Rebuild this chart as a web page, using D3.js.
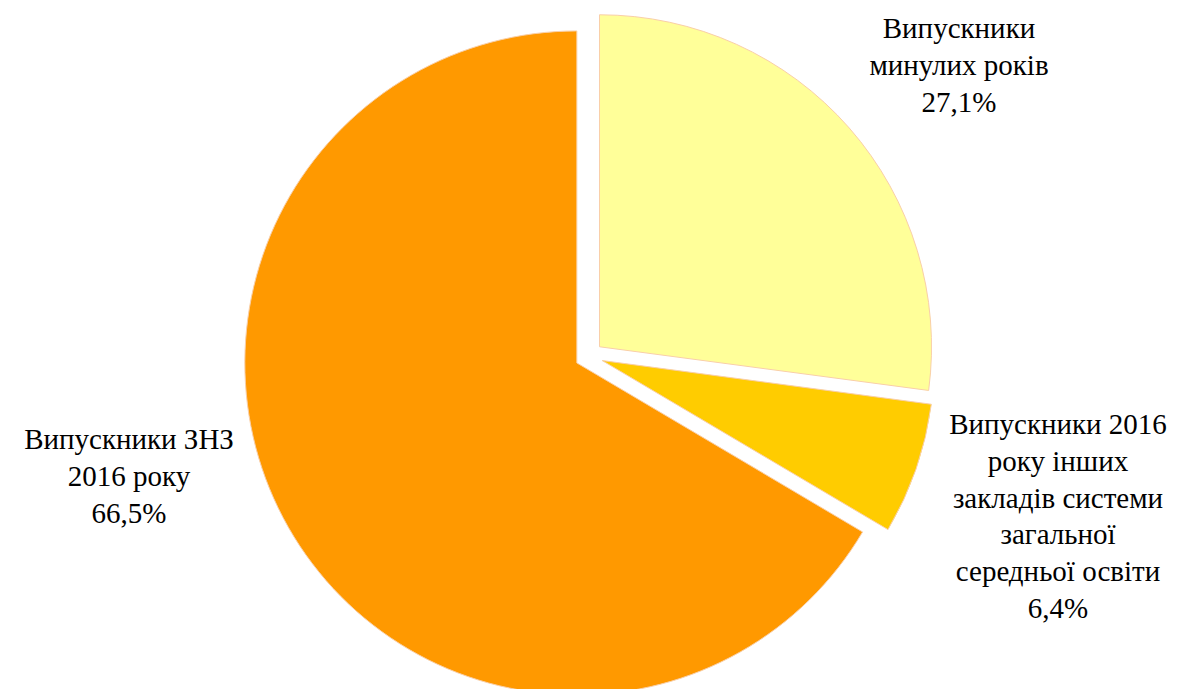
<!DOCTYPE html>
<html>
<head>
  <meta charset="utf-8">
  <script src="https://d3js.org/d3.v7.min.js"></script>
  <style>
    body { margin: 0; background: #fff; }
    .lbl { font-family: "Times New Roman", Times, "Liberation Serif", "DejaVu Serif", "Noto Serif", serif; }
  </style>
</head>
<body>
  <div id="my_dataviz"></div>
  <script>
    // data
    var categories = ["Випускники минулих років",
                      "Випускники 2016 року інших закладів системи загальної середньої освіти",
                      "Випускники ЗНЗ 2016 року"];
    var values = [27.1, 6.4, 66.5];
    var colors = ["#FFFF99", "#FFCC00", "#FF9900"];
    // label lines as wrapped in the picture
    var labelLines = [
      ["Випускники", "минулих років", "27,1%"],
      ["Випускники 2016", "року інших", "закладів системи", "загальної", "середньої освіти", "6,4%"],
      ["Випускники ЗНЗ", "2016 року", "66,5%"]
    ];

    var width = 1184, height = 689;
    var cx = 589, cy = 356, radius = 332, explode = 14;
    // first baseline of each label block
    var labelPos = [[959, 38], [1058, 434], [129, 449]];
    var lineH = 36.8;

    var svg = d3.select("#my_dataviz")
      .append("svg")
      .attr("width", width)
      .attr("height", height);

    var pie = d3.pie().sort(null).value(function (d) { return d; });
    var arcs = pie(values);
    var arc = d3.arc().innerRadius(0).outerRadius(radius);

    var g = svg.append("g")
      .attr("transform", "translate(" + cx + "," + cy + ")");

    g.selectAll("path")
      .data(arcs)
      .enter()
      .append("path")
      .attr("transform", function (d) {
        var a = (d.startAngle + d.endAngle) / 2;
        return "translate(" + (explode * Math.sin(a)) + "," + (-explode * Math.cos(a)) + ")";
      })
      .attr("d", arc)
      .attr("fill", function (d, i) { return colors[i]; })
      .attr("stroke", "#F9CFA8")
      .attr("stroke-width", 1);

    // labels
    arcs.forEach(function (d, i) {
      var t = svg.append("text")
        .attr("class", "lbl")
        .attr("text-anchor", "middle")
        .attr("font-size", 29)
        .attr("fill", "#000");
      labelLines[i].forEach(function (line, j) {
        t.append("tspan")
          .attr("x", labelPos[i][0])
          .attr("y", labelPos[i][1] + j * lineH)
          .text(line);
      });
    });
  </script>
</body>
</html>
